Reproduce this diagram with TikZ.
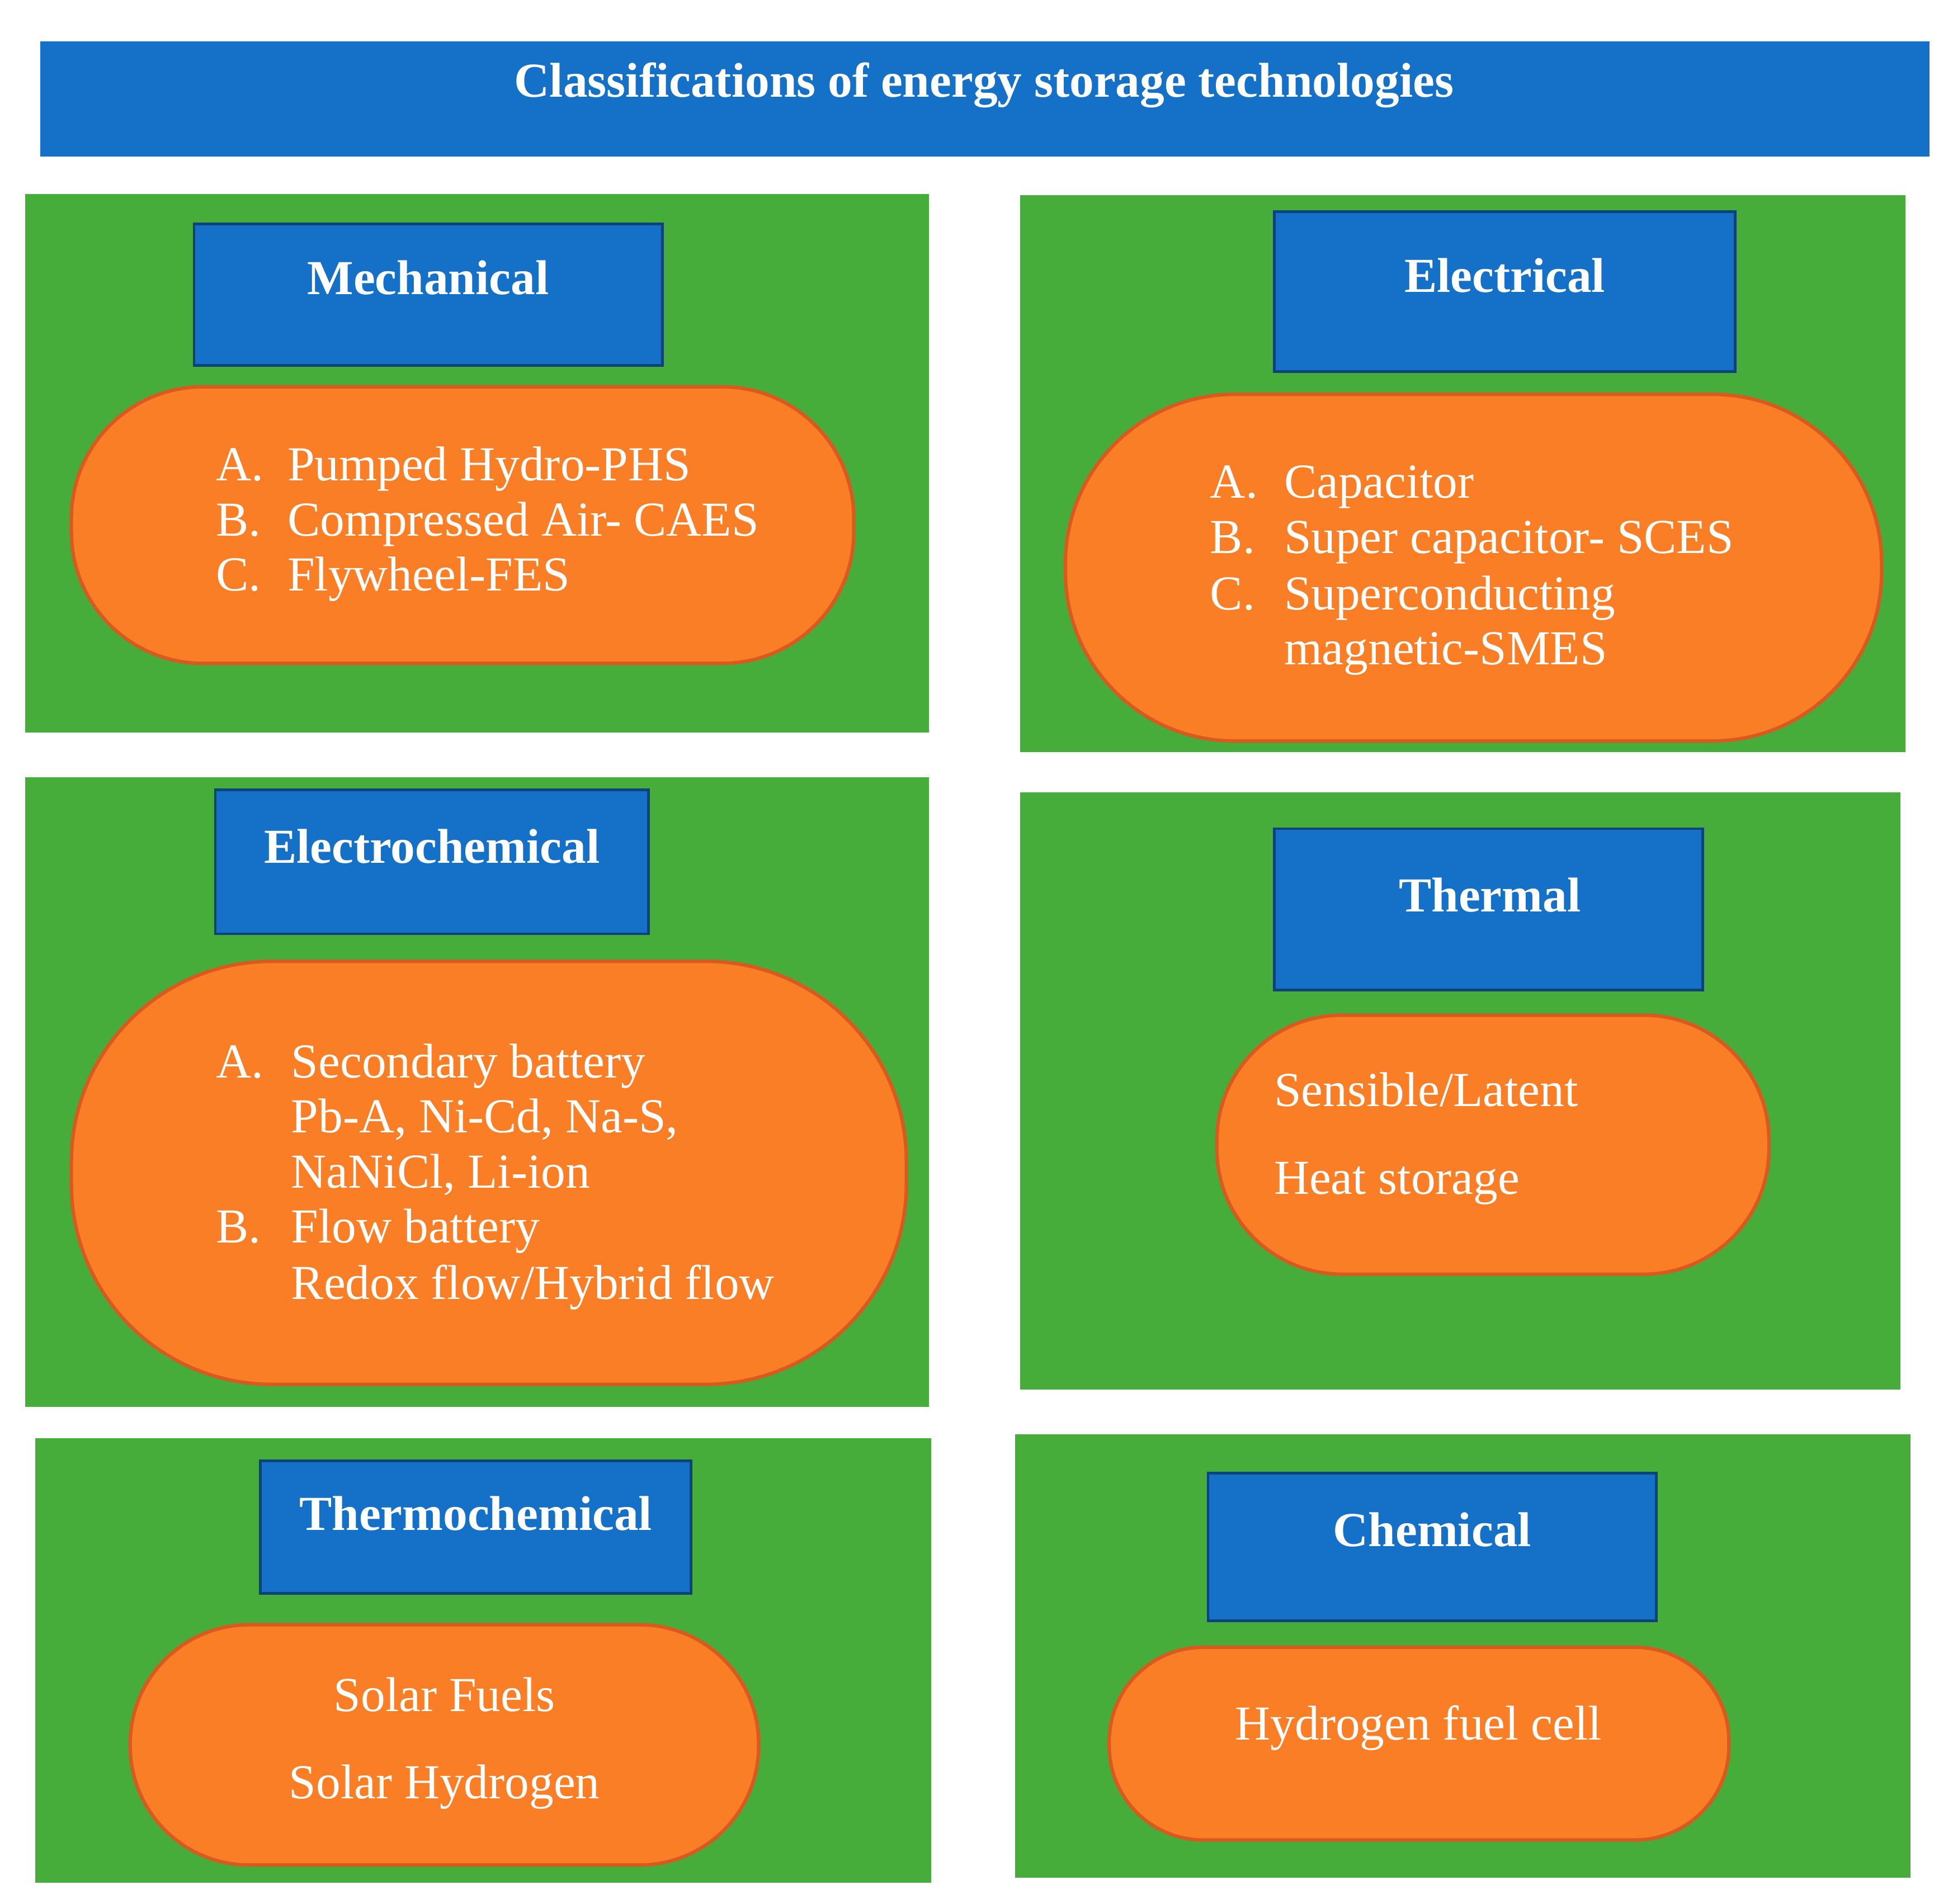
\documentclass[tikz,border=0pt]{standalone}
\usepackage{fontspec}
\setmainfont{Liberation Serif}
\usetikzlibrary{positioning}
\definecolor{titleblue}{HTML}{1570C8}
\definecolor{boxgreen}{HTML}{46AD3B}
\definecolor{pillorange}{HTML}{F97E25}
\definecolor{pilledge}{HTML}{D95A1E}
\begin{document}
\begin{tikzpicture}[
    x=0.01cm, y=-0.01cm,
    font=\fontsize{11.1}{13}\selectfont,
    panel/.style={fill=boxgreen},
    head/.style={draw=black!40!titleblue, fill=titleblue, line width=0.6pt},
    headtext/.style={text=white, font=\fontsize{11.1}{13}\selectfont\bfseries},
    pill/.style={draw=pilledge, fill=pillorange, line width=0.8pt},
    item/.style={text=white, anchor=base west, inner sep=0pt},
    itemc/.style={text=white, anchor=base, inner sep=0pt}
  ]
  \useasboundingbox (0,0) rectangle (1560,1521);

  % Title
  \fill[titleblue] (32,33) rectangle (1541,125);
  \node[headtext] (title) at (786,68) {Classifications of energy storage technologies};

  % Green panels
  \fill[panel] (20,155) rectangle (742,585);
  \fill[panel] (815,156) rectangle (1522,601);
  \fill[panel] (20,621) rectangle (742,1124);
  \fill[panel] (815,633) rectangle (1518,1110);
  \fill[panel] (28,1149) rectangle (744,1504);
  \fill[panel] (811,1146) rectangle (1526,1500);

  % Headers
  \draw[head] (155,179) rectangle (529,292);
  \node[headtext] (mech) at (342,222) {Mechanical};
  \draw[head] (1018,169) rectangle (1386,297);
  \node[headtext] (elec) at (1202,220) {Electrical};
  \draw[head] (172,631) rectangle (518,746);
  \node[headtext] (echem) at (345,676) {Electrochemical};
  \draw[head] (1018,662) rectangle (1360,791);
  \node[headtext] (therm) at (1190,715) {Thermal};
  \draw[head] (208,1167) rectangle (552,1273);
  \node[headtext] (tchem) at (380,1209) {Thermochemical};
  \draw[head] (965,1177) rectangle (1323,1295);
  \node[headtext] (chem) at (1144,1222) {Chemical};

  % Orange pills
  \draw[pill, rounded corners=1.05cm] (57,309) rectangle (682,530);
  \draw[pill, rounded corners=1.35cm] (851,315) rectangle (1503,592);
  \draw[pill, rounded corners=1.6cm] (57,768) rectangle (724,1106);
  \draw[pill, rounded corners=1.0cm] (972,811) rectangle (1413,1018);
  \draw[pill, rounded corners=0.95cm] (104,1298) rectangle (606,1490);
  \draw[pill, rounded corners=0.75cm] (886,1316) rectangle (1381,1470);

  % Mechanical list
  \node[item] (m1) at (172,384) {A.};
  \node[item] (m1t) at (229,384) {Pumped Hydro-PHS};
  \node[item] (m2) at (172,428) {B.};
  \node[item] (m2t) at (229,428) {Compressed Air- CAES};
  \node[item] (m3) at (172,472) {C.};
  \node[item] (m3t) at (229,472) {Flywheel-FES};

  % Electrical list
  \node[item] (e1) at (966,398) {A.};
  \node[item] (e1t) at (1025,398) {Capacitor};
  \node[item] (e2) at (966,442) {B.};
  \node[item] (e2t) at (1025,442) {Super capacitor- SCES};
  \node[item] (e3) at (966,487) {C.};
  \node[item] (e3t) at (1025,487) {Superconducting};
  \node[item] (e4t) at (1025,531) {magnetic-SMES};

  % Electrochemical list
  \node[item] (c1) at (172,861) {A.};
  \node[item] (c1t) at (232,861) {Secondary battery};
  \node[item] (c2t) at (232,905) {Pb-A, Ni-Cd, Na-S,};
  \node[item] (c3t) at (232,949) {NaNiCl, Li-ion};
  \node[item] (c4) at (172,993) {B.};
  \node[item] (c4t) at (232,993) {Flow battery};
  \node[item] (c5t) at (232,1038) {Redox flow/Hybrid flow};

  % Thermal list
  \node[item] (t1) at (1017,884) {Sensible/Latent};
  \node[item] (t2) at (1017,954) {Heat storage};

  % Thermochemical list
  \node[itemc] (h1) at (355,1367) {Solar Fuels};
  \node[itemc] (h2) at (355,1437) {Solar Hydrogen};

  % Chemical list
  \node[itemc] (k1) at (1133,1390) {Hydrogen fuel cell};
\end{tikzpicture}
\end{document}
